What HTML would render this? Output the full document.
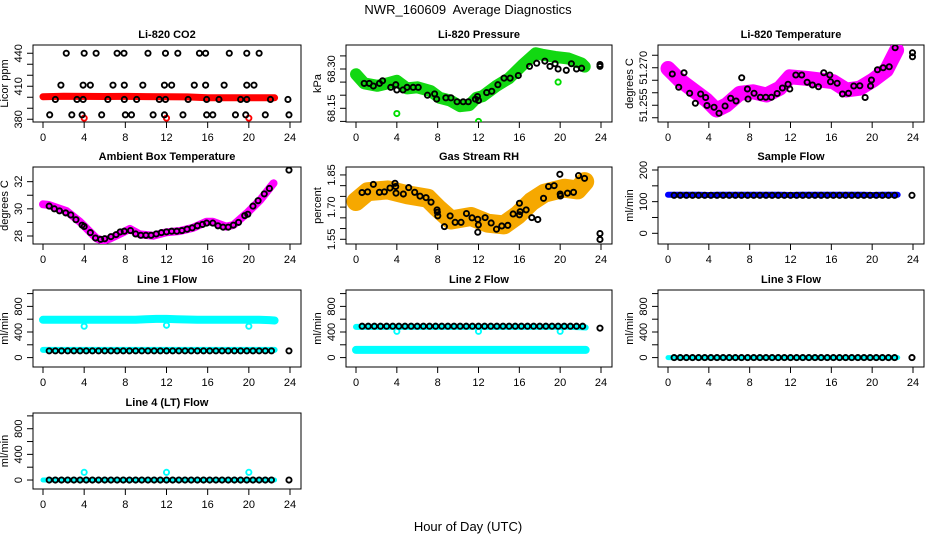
<!DOCTYPE html>
<html><head><meta charset="utf-8">
<style>
html,body{margin:0;padding:0;background:#fff;}
svg{display:block;font-family:"Liberation Sans",sans-serif;}
</style></head>
<body>
<svg id="chart" width="936" height="540" viewBox="0 0 936 540">
<text x="468" y="14" text-anchor="middle" font-size="13" style="white-space:pre">NWR_160609&#160; Average Diagnostics</text>
<text x="468" y="531" text-anchor="middle" font-size="13">Hour of Day (UTC)</text>
</svg>
<script>
// ---------- data ----------
const xTicks = [0,4,8,12,16,20,24];

const co2BandHours = [0,2,4,6,8,10,12,14,16,18,20,22,22.5];
const co2BandVals  = [400.5,401,400.8,400.7,400.8,400.6,400.5,400.3,399.6,399.5,399.5,399.5,399.5];
const co2OutHours = [4,12,20];
const co2OutVals  = [381,381,381];
const co2AvgHours = [2.26,4.0,5.16,7.2,7.87,10.2,11.9,13.1,15.2,15.8,18.1,19.8,21.0,
  1.74,3.9,4.6,6.8,7.9,9.7,11.8,12.5,14.7,15.8,17.6,19.8,20.5,
  1.2,3.3,3.9,6.3,7.9,9.1,11.3,11.9,14.1,15.9,17.1,19.2,19.8,22.1,23.8,
  0.65,2.8,3.8,5.7,8.0,8.6,10.7,11.8,13.6,15.9,16.5,18.7,19.7,21.6,23.9];
const co2AvgVals = [440,440,440,440,440,440,440,440,440,440,440,440,440,
  411,411,411,411,411,411,411,411,411,411,411,411,411,
  398,398,398,398,398,398,398,398,398,398,398,398,398,398,398,
  384,384,384,384,384,384,384,384,384,384,384,384,384,384,384];

const presBandHours = [0,0.8,2.1,3.1,4.0,5.0,6.0,7.3,8.2,9.2,10.2,11.1,11.8,12.4,13.7,15.0,16.3,17.6,18.2,19.5,20.8,22.1,22.4];
const presBandVals  = [68.28,68.245,68.236,68.245,68.255,68.226,68.23,68.216,68.19,68.18,68.158,68.162,68.19,68.196,68.234,68.265,68.315,68.36,68.355,68.346,68.34,68.321,68.309];
const presOutHours = [4.0,12.0,19.8];
const presOutVals  = [68.13,68.10,68.25];
const presAvgHours = [0.8,1.3,1.7,2.3,2.6,3.4,3.9,4.0,4.6,5.0,5.6,6.1,7.0,7.7,7.9,8.8,9.3,9.9,10.5,11.0,11.7,11.9,12.0,12.8,13.3,13.9,14.5,15.1,15.9,17.0,17.7,18.5,19.0,19.5,19.8,20.6,21.1,21.6,22.1,23.9,23.9];
const presAvgVals  = [68.245,68.245,68.235,68.245,68.255,68.23,68.24,68.22,68.22,68.23,68.23,68.23,68.2,68.205,68.185,68.19,68.19,68.175,68.175,68.175,68.185,68.195,68.18,68.21,68.215,68.24,68.265,68.265,68.275,68.31,68.322,68.33,68.31,68.32,68.3,68.295,68.32,68.3,68.303,68.31,68.317];

const tempBandHours = [0,1.14,2.45,3.76,4.74,5.72,7.03,8.33,9.64,10.95,11.93,13.56,14.87,16.18,17.48,18.79,20.1,21.4,22.39];
const tempBandVals  = [51.2697,51.2651,51.2611,51.2571,51.2531,51.2551,51.2598,51.2604,51.2591,51.2618,51.2664,51.2658,51.2651,51.2644,51.2611,51.2618,51.2651,51.2691,51.2770];
const tempAvgHours = [0.42,1.05,1.57,2.12,2.68,3.20,3.69,3.82,4.51,5.00,5.59,6.14,6.67,7.22,7.78,7.84,8.43,9.05,9.58,10.13,10.69,11.21,11.76,11.93,12.52,13.10,13.63,14.15,14.74,15.26,15.85,15.92,16.57,17.09,17.68,18.20,18.79,19.31,19.84,19.93,20.52,21.08,21.67,22.25,23.95,23.95];
const tempAvgVals  = [51.2675,51.2622,51.2680,51.2598,51.2558,51.2595,51.2581,51.2549,51.2542,51.2518,51.2547,51.2578,51.2567,51.2660,51.2615,51.2575,51.2598,51.2582,51.2582,51.2582,51.2597,51.2619,51.2634,51.2615,51.2671,51.2671,51.2642,51.2631,51.2624,51.2680,51.2671,51.2644,51.2638,51.2595,51.2598,51.2627,51.2628,51.2581,51.2627,51.2651,51.2692,51.2700,51.2704,51.2780,51.2760,51.2744];

const ambBandHours = [0,0.5,2.27,3.57,5.19,5.84,6.49,7.78,8.43,9.41,10.7,12.0,13.3,14.6,15.9,16.5,17.8,18.5,19.8,21.1,22.4];
const ambBandVals  = [30.33,30.3,29.84,29.06,27.83,27.65,27.8,28.27,28.52,28.12,28.02,28.27,28.37,28.61,29.05,29.05,28.69,28.81,29.67,30.65,31.88];
const ambAvgHours = [0.6,1.1,1.6,2.2,2.7,3.2,3.8,4.0,4.6,5.1,5.6,6.0,6.6,7.1,7.5,7.9,8.5,9.0,9.5,10.0,10.5,11.0,11.5,12.0,12.5,13.0,13.5,14.0,14.5,15.0,15.5,15.9,16.5,17.0,17.5,18.0,18.5,19.0,19.6,19.9,20.4,20.9,21.5,22.0,23.9];
const ambAvgVals  = [30.2,30.0,29.85,29.7,29.55,29.2,28.8,28.7,28.25,27.85,27.75,27.8,27.95,28.1,28.3,28.35,28.4,28.15,28.05,28.05,28.05,28.15,28.25,28.3,28.35,28.35,28.4,28.5,28.6,28.75,28.85,28.95,28.95,28.75,28.65,28.65,28.8,29.0,29.5,29.6,30.2,30.6,31.1,31.5,32.85];

const rhBandHours = [0,1.14,3.1,5.07,7.03,8.0,9.31,11.27,12.9,14.5,15.85,17.2,18.46,20.4,21.7,22.4];
const rhBandVals  = [1.726,1.772,1.78,1.757,1.741,1.695,1.64,1.656,1.625,1.617,1.663,1.726,1.765,1.788,1.78,1.819];
const rhAvgHours = [0.59,1.14,1.70,2.29,2.78,3.33,3.82,3.89,3.92,4.64,5.16,5.75,6.27,6.86,7.35,7.94,7.97,8.01,8.66,9.22,9.71,10.29,10.82,11.37,11.93,11.99,11.93,12.65,13.24,13.76,14.28,14.87,15.39,16.01,16.01,16.08,16.67,17.22,17.81,18.37,18.86,19.41,19.97,20.0,20.03,20.72,21.31,21.80,22.39,23.9,23.9];
const rhAvgVals  = [1.768,1.771,1.806,1.769,1.771,1.789,1.811,1.796,1.765,1.761,1.791,1.769,1.751,1.744,1.723,1.687,1.676,1.659,1.609,1.659,1.629,1.629,1.670,1.650,1.643,1.617,1.583,1.651,1.626,1.597,1.612,1.615,1.668,1.664,1.718,1.679,1.687,1.651,1.642,1.741,1.796,1.800,1.853,1.761,1.752,1.765,1.769,1.847,1.834,1.577,1.549];

const flowBandHours = [0,1,2,3,4,5,6,7,8,9,10,11,12,13,14,15,16,17,18,19,20,21,22,22.5];
const sampleBandVals = [122,122,122,122,121,122,122,122,122,122,122,122,121,122,122,122,122,122,122,122,121,122,122,122];
const line1UpperVals = [590,590,590,590,590,590,590,590,590,590,600,605,605,600,595,590,590,590,590,590,590,590,585,580];
const line1LowerVals = [120,120,120,120,120,120,120,120,120,120,120,120,120,120,120,120,120,120,120,120,120,120,120,120];
const line2UpperVals = [480,480,480,480,480,480,480,480,480,480,480,480,480,480,480,480,480,480,480,480,480,480,475,470];
const line2LowerVals = [120,120,120,120,120,120,120,120,120,120,120,120,120,120,120,120,120,120,120,120,120,120,120,120];
const line3BandVals = [0,0,0,0,0,0,0,0,0,0,0,0,0,0,0,0,0,0,0,0,0,0,0,0];
const line4BandVals = [0,0,0,0,0,0,0,0,0,0,0,0,0,0,0,0,0,0,0,0,0,0,0,0];

const flowOutHours = [4,12,20];
const line1OutVals = [490,505,490];
const line2OutVals = [410,410,410];
const line4OutVals = [120,120,120];

const flowAvgHours = [0.6,1.2,1.8,2.4,3.0,3.6,4.2,4.8,5.4,6.0,6.6,7.2,7.8,8.4,9.0,9.6,10.2,10.8,11.4,12.0,12.6,13.2,13.8,14.4,15.0,15.6,16.2,16.8,17.4,18.0,18.6,19.2,19.8,20.4,21.0,21.6,22.2,23.9];
const sampleAvgVals = [120,120,120,120,120,120,120,120,120,120,120,120,120,120,120,120,120,120,120,120,120,120,120,120,120,120,120,120,120,120,120,120,120,120,120,120,120,120];
const line1AvgVals = [105,105,105,105,105,105,105,105,105,105,105,105,105,105,105,105,105,105,105,105,105,105,105,105,105,105,105,105,105,105,105,105,105,105,105,105,105,105];
const line2AvgVals = [490,490,490,490,490,490,490,490,490,490,490,490,490,490,490,490,490,490,490,490,490,490,490,490,490,490,490,490,490,490,490,490,490,490,490,490,490,460];
const line3AvgVals = [0,0,0,0,0,0,0,0,0,0,0,0,0,0,0,0,0,0,0,0,0,0,0,0,0,0,0,0,0,0,0,0,0,0,0,0,0,0];
const line4AvgVals = [0,0,0,0,0,0,0,0,0,0,0,0,0,0,0,0,0,0,0,0,0,0,0,0,0,0,0,0,0,0,0,0,0,0,0,0,0,0];

// ---------- drawing ----------
const svg = document.getElementById('chart');
const NS = 'http://www.w3.org/2000/svg';
function mk(tag, attrs, parent){
  const e = document.createElementNS(NS, tag);
  for (const k in attrs) e.setAttribute(k, attrs[k]);
  (parent || svg).appendChild(e);
  return e;
}
const cols = [{l:33,r:301},{l:346,r:612},{l:658,r:924}];
const rows = [{t:45,b:122},{t:167,b:244},{t:290,b:367},{t:413,b:489}];

function panel(name, title, ylab, col, row, yLo, yHi, yTicks, yLabels, fmt){
  const g = mk('g', {});
  
  
  const c = cols[col], r = rows[row];
  const x0 = c.l + 10, x1 = c.r - 11;
  const sx = h => x0 + (h / 24) * (x1 - x0);
  const sy = v => r.b - (v - yLo) / (yHi - yLo) * (r.b - r.t);
  const box = mk('rect', {x:c.l, y:r.t, width:c.r-c.l, height:r.b-r.t, fill:'none', stroke:'#000', 'stroke-width':1}, g);
  
  
  const t = mk('text', {x:(c.l+c.r)/2, y:r.t-7, 'text-anchor':'middle', 'font-size':11, 'font-weight':'bold'}, g);
  t.textContent = title;
  
  
  const xa = mk('g', {}, g);
  
  
  xTicks.forEach(v => {
    mk('line', {x1:sx(v), x2:sx(v), y1:r.b, y2:r.b+6, stroke:'#000'}, xa);
    const tl = mk('text', {x:sx(v), y:r.b+19, 'text-anchor':'middle', 'font-size':11}, xa);
    tl.textContent = v;
    
    
  });
  const ya = mk('g', {}, g);
  
  
  yTicks.forEach(v => mk('line', {x1:c.l-6, x2:c.l, y1:sy(v), y2:sy(v), stroke:'#000'}, ya));
  yLabels.forEach(v => {
    const yy = sy(v);
    const tl = mk('text', {x:c.l-11, y:yy, 'text-anchor':'middle', 'font-size':11, transform:'rotate(-90 '+(c.l-11)+' '+yy+')'}, ya);
    tl.textContent = fmt ? v.toFixed(fmt) : v;
    
    
  });
  const yl = mk('text', {x:c.l-25, y:(r.t+r.b)/2, 'text-anchor':'middle', 'font-size':11, transform:'rotate(-90 '+(c.l-25)+' '+(r.t+r.b)/2+')'}, g);
  yl.textContent = ylab;
  
  
  const clip = 'clip-' + name;
  const cp = mk('clipPath', {id:clip}, g);
  mk('rect', {x:c.l, y:r.t, width:c.r-c.l, height:r.b-r.t}, cp);
  const data = mk('g', {'clip-path':'url(#'+clip+')'}, g);
  return {sx, sy, g:data, name};
}
function band(p, hours, vals, color, w, label){
  const pts = hours.map((h,i) => p.sx(h).toFixed(1)+','+p.sy(vals[i]).toFixed(1)).join(' ');
  const pl = mk('polyline', {points:pts, fill:'none', stroke:color, 'stroke-width':w, 'stroke-linejoin':'round', 'stroke-linecap':'round'}, p.g);
  
  
}
function pts(p, hours, vals, color, label, r){
  const gg = mk('g', {}, p.g);
  
  
  hours.forEach((h,i) => {
    const c = mk('circle', {cx:p.sx(h), cy:p.sy(vals[i]), r:r||2.6, fill:'none', stroke:color, 'stroke-width':1.9}, gg);
    
    
  });
}
function range(a,b,s){const o=[];for(let v=a;v<=b+1e-9;v+=s)o.push(+v.toFixed(4));return o;}

let p = panel('co2','Li-820 CO2','Licor ppm',0,0,377.5,447.5,range(380,440,10),[380,410,440]);
band(p, co2BandHours, co2BandVals, '#ff0000', 7, 'raw-band');
pts(p, co2OutHours, co2OutVals, '#ff0000', 'raw-outliers');
pts(p, co2AvgHours, co2AvgVals, '#000', 'averages');

p = panel('pressure','Li-820 Pressure','kPa',1,0,68.0977,68.3916,range(68.10,68.35,0.05),[68.15,68.30],2);
band(p, presBandHours, presBandVals, '#12d812', 12, 'raw-band');
pts(p, presOutHours, presOutVals, '#00dd00', 'raw-outliers');
pts(p, presAvgHours, presAvgVals, '#000', 'averages');

p = panel('temperature','Li-820 Temperature','degrees C',2,0,51.2483,51.2791,range(51.250,51.275,0.005),[51.255,51.270],3);
band(p, tempBandHours, tempBandVals, '#ff00ff', 15, 'raw-band');
pts(p, tempAvgHours, tempAvgVals, '#000', 'averages');

p = panel('ambient','Ambient Box Temperature','degrees C',0,1,27.41,33.08,range(28,32,1),[28,30,32]);
band(p, ambBandHours, ambBandVals, '#ff00ff', 8, 'raw-band');
pts(p, ambAvgHours, ambAvgVals, '#000', 'averages');

p = panel('rh','Gas Stream RH','percent',1,1,1.528,1.887,range(1.55,1.85,0.05),[1.55,1.70,1.85],2);
band(p, rhBandHours, rhBandVals, '#f6a800', 19, 'raw-band');
pts(p, rhAvgHours, rhAvgVals, '#000', 'averages');

p = panel('sample-flow','Sample Flow','ml/min',2,1,-33.8,209.5,range(0,200,50),[0,100,200]);
band(p, flowBandHours, sampleBandVals, '#0000ff', 6, 'raw-band');
pts(p, flowAvgHours, sampleAvgVals, '#000', 'averages');

p = panel('line1-flow','Line 1 Flow','ml/min',0,2,-147,1056,range(0,1000,200),[0,400,800]);
band(p, flowBandHours, line1UpperVals, '#00ffff', 8, 'raw-band-upper');
band(p, flowBandHours, line1LowerVals, '#00ffff', 6, 'raw-band-lower');
pts(p, flowOutHours, line1OutVals, '#00ffff', 'raw-outliers');
pts(p, flowAvgHours, line1AvgVals, '#000', 'averages');

p = panel('line2-flow','Line 2 Flow','ml/min',1,2,-147,1056,range(0,1000,200),[0,400,800]);
band(p, flowBandHours, line2UpperVals, '#00ffff', 6, 'raw-band-upper');
band(p, flowBandHours, line2LowerVals, '#00ffff', 8, 'raw-band-lower');
pts(p, flowOutHours, line2OutVals, '#00ffff', 'raw-outliers');
pts(p, flowAvgHours, line2AvgVals, '#000', 'averages');

p = panel('line3-flow','Line 3 Flow','ml/min',2,2,-147,1056,range(0,1000,200),[0,400,800]);
band(p, flowBandHours, line3BandVals, '#00ffff', 5, 'raw-band');
pts(p, flowAvgHours, line3AvgVals, '#000', 'averages');

p = panel('line4-flow','Line 4 (LT) Flow','ml/min',0,3,-140,1045,range(0,1000,200),[0,400,800]);
band(p, flowBandHours, line4BandVals, '#00ffff', 5, 'raw-band');
pts(p, flowOutHours, line4OutVals, '#00ffff', 'raw-outliers');
pts(p, flowAvgHours, line4AvgVals, '#000', 'averages');
</script>
</body></html>
